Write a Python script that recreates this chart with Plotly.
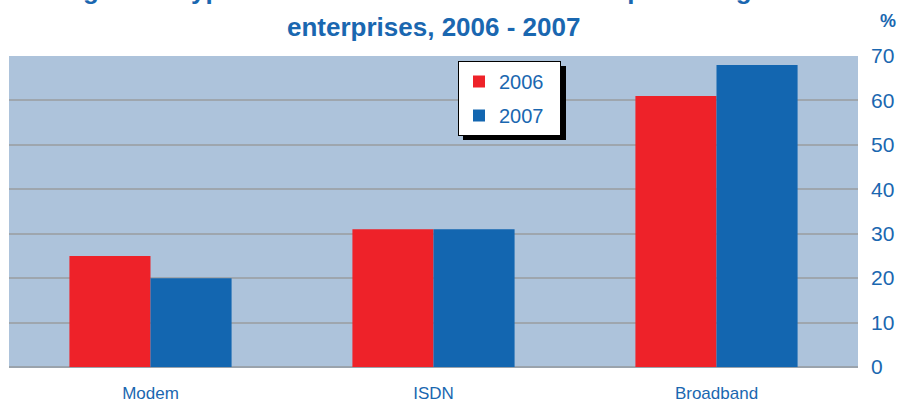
import plotly.graph_objects as go

# Internet connection types used by enterprises (% of enterprises)
categories = ["Modem", "ISDN", "Broadband"]
years = ["2006", "2007"]
values_2006 = [25, 31, 61]
values_2007 = [20, 31, 68]
y_ticks = [0, 10, 20, 30, 40, 50, 60, 70]

RED = "#EE2229"
BLUE = "#1366B0"
TEXT_BLUE = "#1A67B0"
PLOT_BG = "#ADC3DB"

# trailing non-breaking spaces widen the legend box on the right
PAD = "\u00a0\u00a0"

fig = go.Figure()
fig.add_trace(go.Bar(x=categories, y=values_2006, name=years[0] + PAD,
                     marker=dict(color=RED, line=dict(width=0)),
                     legendgroup="a"))
fig.add_trace(go.Bar(x=categories, y=values_2007, name=years[1] + PAD,
                     marker=dict(color=BLUE, line=dict(width=0)),
                     legendgroup="b"))

W, H = 899, 403
ML, MR, MT, MB = 9, 41, 56, 36
pw, ph = W - ML - MR, H - MT - MB


def px_to_paper_x(px):
    return (px - ML) / pw


def px_to_paper_y(py):
    return 1 - (py - MT) / ph


title_font = dict(family="Liberation Sans Narrow, Arial Narrow, Liberation Sans, Arial",
                  size=26, color=TEXT_BLUE)

fig.update_layout(
    width=W, height=H,
    margin=dict(l=ML, r=MR, t=MT, b=MB, pad=0, autoexpand=False),
    paper_bgcolor="white",
    plot_bgcolor=PLOT_BG,
    barmode="group",
    bargap=0.427,
    bargroupgap=0,
    font=dict(family="Liberation Sans, Arial", color=TEXT_BLUE),
    xaxis=dict(showgrid=False, showline=False, ticks="", automargin=False,
               tickfont=dict(size=17, color=TEXT_BLUE),
               ticklabelstandoff=14),
    yaxis=dict(side="right", range=[0, 70], tickvals=y_ticks, automargin=False,
               showgrid=True, gridcolor="#9EA6AE", gridwidth=1.5,
               zeroline=True, zerolinecolor="#9AA3AC", zerolinewidth=2,
               showline=False, ticks="",
               tickfont=dict(size=21, color=TEXT_BLUE),
               ticklabelstandoff=12),
    legend=dict(x=px_to_paper_x(458), y=px_to_paper_y(61),
                xanchor="left", yanchor="top",
                bgcolor="white", bordercolor="black", borderwidth=1,
                font=dict(size=20, color=TEXT_BLUE),
                tracegroupgap=5, itemwidth=30),
    showlegend=True,
)

# drop shadow behind the legend box
fig.add_shape(type="rect", xref="paper", yref="paper",
              x0=px_to_paper_x(463), x1=px_to_paper_x(566),
              y0=px_to_paper_y(140), y1=px_to_paper_y(66),
              fillcolor="black", line=dict(width=0), layer="above")

# two-line title; the first line sits above the top edge
fig.add_annotation(text="<b>Figure 5: Type of Internet connection used as percentage of all</b>",
                   xref="paper", yref="paper", x=px_to_paper_x(58), y=px_to_paper_y(-10),
                   showarrow=False, font=title_font, xanchor="left", yanchor="middle")
fig.add_annotation(text="<b>enterprises, 2006 - 2007</b>",
                   xref="paper", yref="paper", x=px_to_paper_x(433), y=px_to_paper_y(27),
                   showarrow=False, font=title_font, yanchor="middle")
fig.add_annotation(text="<b>%</b>", xref="paper", yref="paper",
                   x=px_to_paper_x(878), y=px_to_paper_y(21),
                   showarrow=False, font=dict(size=18, color=TEXT_BLUE),
                   xanchor="left", yanchor="middle")

fig.write_html("out.html")
